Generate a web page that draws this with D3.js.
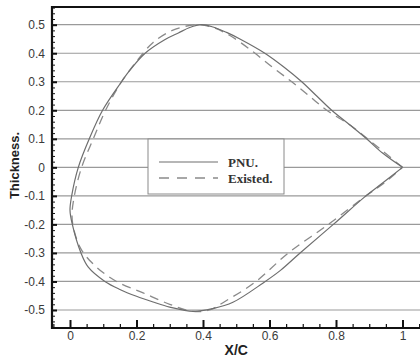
<!DOCTYPE html>
<html>
<head>
<meta charset="utf-8">
<script src="https://cdn.jsdelivr.net/npm/d3@7"></script>
<style>
  body { margin: 0; background: #fff; }
  svg { display: block; }
</style>
</head>
<body>
<svg id="chart" width="420" height="361"></svg>
<script>
// Data (x/c, thickness), trailing edge -> upper -> leading edge -> lower -> trailing edge
const pnuX = [1.0, 0.94, 0.892, 0.84, 0.787, 0.742, 0.697, 0.645, 0.586, 0.511, 0.471, 0.43, 0.395, 0.36, 0.326, 0.286, 0.226, 0.175, 0.155, 0.098, 0.058, 0.025, 0.005, 0.0, 0.007, 0.033, 0.055, 0.105, 0.15, 0.20, 0.25, 0.30, 0.371, 0.43, 0.49, 0.581, 0.632, 0.692, 0.792, 0.89, 0.94, 1.0];
const pnuY = [0.0, 0.05, 0.10, 0.15, 0.20, 0.25, 0.30, 0.35, 0.40, 0.45, 0.473, 0.492, 0.50, 0.49, 0.471, 0.448, 0.40, 0.333, 0.30, 0.20, 0.10, 0.0, -0.10, -0.15, -0.20, -0.30, -0.35, -0.40, -0.428, -0.452, -0.472, -0.49, -0.505, -0.495, -0.473, -0.405, -0.362, -0.30, -0.20, -0.10, -0.055, 0.0];

const existedX = [1.0, 0.948, 0.895, 0.84, 0.772, 0.72, 0.667, 0.61, 0.545, 0.481, 0.43, 0.38, 0.306, 0.25, 0.22, 0.155, 0.107, 0.07, 0.035, 0.013, 0.006, 0.012, 0.035, 0.08, 0.14, 0.22, 0.30, 0.37, 0.42, 0.466, 0.556, 0.657, 0.777, 0.89, 0.95, 1.0];
const existedY = [0.0, 0.05, 0.10, 0.15, 0.20, 0.25, 0.30, 0.35, 0.41, 0.462, 0.49, 0.50, 0.479, 0.438, 0.40, 0.30, 0.20, 0.10, 0.0, -0.10, -0.17, -0.22, -0.29, -0.35, -0.40, -0.44, -0.48, -0.505, -0.50, -0.47, -0.403, -0.30, -0.20, -0.10, -0.05, 0.0];

const xTicks = [0, 0.2, 0.4, 0.6, 0.8, 1];
const xTickLabels = ["0", "0.2", "0.4", "0.6", "0.8", "1"];
const yTicks = [0.5, 0.4, 0.3, 0.2, 0.1, 0, -0.1, -0.2, -0.3, -0.4, -0.5];
const yTickLabels = ["0.5", "0.4", "0.3", "0.2", "0.1", "0", "-0.1", "-0.2", "-0.3", "-0.4", "-0.5"];
const seriesNames = ["PNU.", "Existed."];

// Layout
const svg = d3.select("#chart");
const frame = { left: 52, top: 7, bottom: 328, right: 420 };

// Scales
const xScale = d3.scaleLinear().domain([0, 1]).range([70, 402.5]);
const yScale = d3.scaleLinear().domain([-0.5, 0.5]).range([310, 24.7]);

// Horizontal grid lines
svg.append("g")
  .selectAll("line")
  .data(yTicks)
  .join("line")
  .attr("x1", frame.left)
  .attr("x2", frame.right)
  .attr("y1", d => yScale(d))
  .attr("y2", d => yScale(d))
  .attr("stroke", "#9a9a9a")
  .attr("stroke-width", 1.2);

// Minor ticks
const minorX = d3.range(-0.05, 1.06, 0.05).filter(v => Math.abs(v * 5 - Math.round(v * 5)) > 1e-6);
const minorY = d3.range(-0.56, 0.561, 0.02).filter(v => Math.abs(v * 10 - Math.round(v * 10)) > 1e-6);

const xMinor = svg.append("g")
  .attr("transform", `translate(0,${frame.bottom})`)
  .call(d3.axisBottom(xScale).tickValues(minorX).tickSizeInner(-4).tickSizeOuter(0).tickFormat(""));
xMinor.select(".domain").remove();
xMinor.selectAll("line").attr("stroke", "#111").attr("stroke-width", 1.2);

const yMinor = svg.append("g")
  .attr("transform", `translate(${frame.left},0)`)
  .call(d3.axisLeft(yScale).tickValues(minorY).tickSizeInner(-3).tickSizeOuter(0).tickFormat(""));
yMinor.select(".domain").remove();
yMinor.selectAll("line").attr("stroke", "#111").attr("stroke-width", 1);

// Major axes
const xAxis = svg.append("g")
  .attr("transform", `translate(0,${frame.bottom})`)
  .call(d3.axisBottom(xScale).tickValues(xTicks).tickSizeInner(-8).tickSizeOuter(0).tickPadding(3)
    .tickFormat((d, i) => xTickLabels[i]));
xAxis.select(".domain").remove();
xAxis.selectAll("line").attr("stroke", "#111").attr("stroke-width", 2);
xAxis.selectAll("text")
  .attr("font-family", "Liberation Sans, Arial, sans-serif")
  .attr("font-size", 12)
  .attr("fill", "#3a3a3a");

const yAxis = svg.append("g")
  .attr("transform", `translate(${frame.left},0)`)
  .call(d3.axisLeft(yScale).tickValues(yTicks).tickSizeInner(-5).tickSizeOuter(0).tickPadding(7)
    .tickFormat((d, i) => yTickLabels[i]));
yAxis.select(".domain").remove();
yAxis.selectAll("line").attr("stroke", "#111").attr("stroke-width", 2);
yAxis.selectAll("text")
  .attr("font-family", "Liberation Sans, Arial, sans-serif")
  .attr("font-size", 12)
  .attr("fill", "#3a3a3a");

// Frame lines (left, top, bottom)
svg.append("path")
  .attr("d", `M${frame.right},${frame.top}H${frame.left}V${frame.bottom}H${frame.right}`)
  .attr("fill", "none")
  .attr("stroke", "#111")
  .attr("stroke-width", 2.2);

// Curves
const line = d3.line()
  .x(d => xScale(d[0]))
  .y(d => yScale(d[1]))
  .curve(d3.curveCatmullRom.alpha(0.5));

const pnu = pnuX.map((v, i) => [v, pnuY[i]]);
const existed = existedX.map((v, i) => [v, existedY[i]]);

svg.append("path")
  .datum(existed)
  .attr("d", line)
  .attr("fill", "none")
  .attr("stroke", "#8a8a8a")
  .attr("stroke-width", 1.3)
  .attr("stroke-dasharray", "9,6");

svg.append("path")
  .datum(pnu)
  .attr("d", line)
  .attr("fill", "none")
  .attr("stroke", "#6e6e6e")
  .attr("stroke-width", 1.2);

// Legend
const legend = svg.append("g");
legend.append("rect")
  .attr("x", 148).attr("y", 139)
  .attr("width", 136).attr("height", 55)
  .attr("fill", "#fff")
  .attr("stroke", "#8a8a8a")
  .attr("stroke-width", 1);

legend.append("line")
  .attr("x1", 159).attr("x2", 218)
  .attr("y1", 162).attr("y2", 162)
  .attr("stroke", "#6e6e6e").attr("stroke-width", 1.2);

legend.append("line")
  .attr("x1", 159).attr("x2", 218)
  .attr("y1", 178).attr("y2", 178)
  .attr("stroke", "#8a8a8a").attr("stroke-width", 1.3)
  .attr("stroke-dasharray", "10,8");

legend.selectAll("text")
  .data(seriesNames)
  .join("text")
  .attr("x", 228)
  .attr("y", (d, i) => 166.5 + i * 16)
  .attr("font-family", "Liberation Serif, Times New Roman, serif")
  .attr("font-weight", "bold")
  .attr("font-size", 13)
  .attr("fill", "#333")
  .text(d => d);

// Axis titles
svg.append("text")
  .attr("x", xScale(0.5))
  .attr("y", 355)
  .attr("text-anchor", "middle")
  .attr("font-family", "Liberation Sans, Arial, sans-serif")
  .attr("font-weight", "bold")
  .attr("font-size", 14)
  .attr("fill", "#222")
  .text("X/C");

svg.append("text")
  .attr("transform", `translate(18.5,165.5) rotate(-90)`)
  .attr("text-anchor", "middle")
  .attr("font-family", "Liberation Sans, Arial, sans-serif")
  .attr("font-weight", "bold")
  .attr("font-size", 13)
  .attr("fill", "#222")
  .text("Thickness.")
</script>
</body>
</html>
